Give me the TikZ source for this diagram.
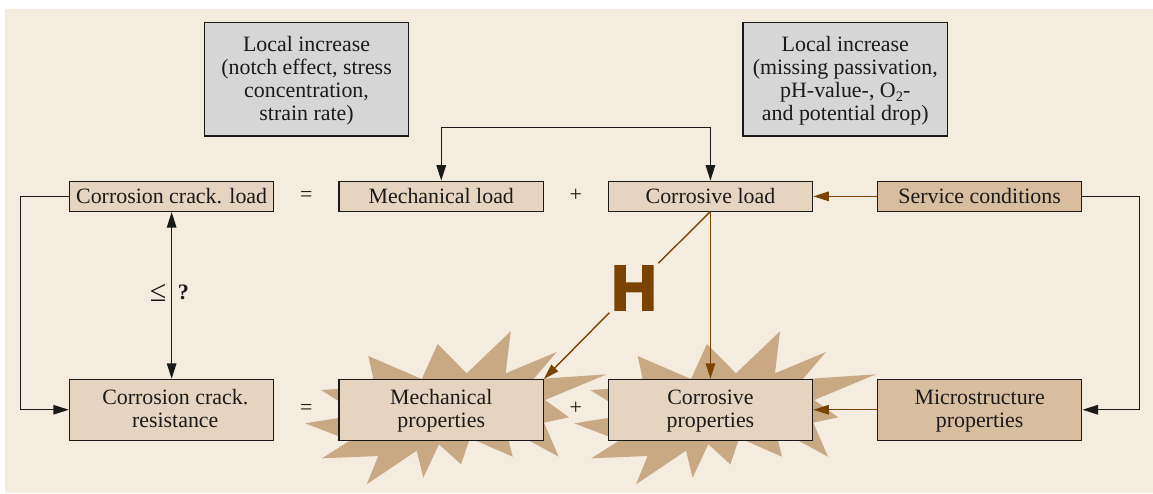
\documentclass[tikz,border=0pt]{standalone}
\usepackage{fontspec}
\setmainfont{Liberation Serif}
\newfontfamily\heavyfont[FakeBold=3.8]{Liberation Sans Bold}
\usetikzlibrary{arrows.meta}
\definecolor{paper}{HTML}{F3ECDF}
\definecolor{boxlight}{HTML}{E5D5C0}
\definecolor{boxdark}{HTML}{D8BE9F}
\definecolor{burst}{HTML}{C8A983}
\definecolor{greybox}{HTML}{D6D6D6}
\definecolor{rust}{HTML}{7A4300}
\definecolor{ink}{HTML}{1A1A1A}
% Every text line in a box gets the same height and depth.
\newcommand{\linestrut}{\rule[-4.8pt]{0pt}{23pt}}
\tikzset{
  x=1pt,y=-1pt,
  boxbase/.style={draw=ink,line width=1.1pt,minimum width=204.5pt,text=ink,align=center,
    font=\fontsize{21.9pt}{23pt}\selectfont,inner sep=0pt,outer sep=0pt,anchor=north west},
  single/.style={boxbase,fill=boxlight,minimum height=30.3pt},
  double/.style={boxbase,fill=boxlight,minimum height=60.7pt},
  singledark/.style={single,fill=boxdark},
  doubledark/.style={double,fill=boxdark},
  note/.style={boxbase,fill=greybox,minimum height=113.3pt},
  blackline/.style={draw=ink,line width=1.4pt,line join=miter,shorten >=0.6pt,-{Triangle[length=15.5pt,width=9.5pt]}},
  blacktwo/.style={draw=ink,line width=1.4pt,shorten >=0.6pt,shorten <=0.6pt,
    {Triangle[length=15.5pt,width=9.5pt]}-{Triangle[length=15.5pt,width=9.5pt]}},
  rustline/.style={draw=rust,line width=1.4pt,shorten >=0.6pt,-{Triangle[length=15.5pt,width=9.5pt]}},
  rustplain/.style={draw=rust,line width=1.4pt},
  sign/.style={text=ink,font=\fontsize{21.9pt}{23pt}\selectfont,inner sep=0pt},
  burstshape/.style={fill=burst,draw=none},
}
% Jagged burst drawn behind a property box; the argument is its horizontal offset.
\newcommand{\burstat}[1]{%
  \fill[burstshape,shift={(#1,0)}]
    (368.3,356) -- (421.7,379) -- (437.7,344) -- (466.7,373.3) -- (510.7,331.3)
    -- (505.7,373.3) -- (556.7,352) -- (533.3,379.3) -- (606.7,374.3) -- (545,400)
    -- (569,417.3) -- (544,422.7) -- (558.7,456.7) -- (505.7,428) -- (512.7,456.7)
    -- (470,438) -- (461,464.3) -- (439,444.3) -- (423.3,477.7) -- (416.7,450.7)
    -- (366.7,484.3) -- (378.3,456) -- (322,458.3) -- (350,440.5)
    -- (305,423.3) -- (345,417) -- (345,405) -- (321,390) -- (345,388.5)
    -- (373.3,378.3) -- cycle;}
\begin{document}
\begin{tikzpicture}
\useasboundingbox (0,0) rectangle (1153,493);
\fill[paper] (5,9) rectangle (1153,493);

\burstat{0}
\burstat{269.3}

\node[note] (localA) at (204.3,22.7) {\linestrut Local increase\\\linestrut(notch effect, stress\\\linestrut concentration,\\\linestrut strain rate)};
\node[note] (localB) at (743,22.7) {\linestrut Local increase\\\linestrut(missing passivation,\\\linestrut pH-value-, O\raisebox{-3.5pt}{\fontsize{14.5pt}{15pt}\selectfont 2}-\\\linestrut and potential drop)};

\node[single] (ccload) at (69.4,181.2) {\linestrut Corrosion crack. load};
\node[single] (mechload) at (339,181.2) {\linestrut Mechanical load};
\node[single] (corrload) at (608.2,181.2) {\linestrut Corrosive load};
\node[singledark] (service) at (877.4,181.2) {\linestrut Service conditions};

\node[double] (ccres) at (69.4,379.4) {\linestrut\hspace*{7.2pt}Corrosion crack.\\\linestrut\hspace*{7.2pt}resistance};
\node[double] (mechprop) at (339,379.4) {\linestrut Mechanical\\\linestrut properties};
\node[double] (corrprop) at (608.2,379.4) {\linestrut Corrosive\\\linestrut properties};
\node[doubledark] (micro) at (877.4,379.4) {\linestrut Microstructure\\\linestrut properties};

\node[sign] (eqtop) at (306.3,196.7) {=};
\node[sign] (plustop) at (575.7,195.5) {+};
\node[sign] (eqbot) at (306.3,409.4) {=};
\node[sign] (plusbot) at (575.7,408) {+};
\node[sign,font=\fontsize{30pt}{32pt}\selectfont] (leq) at (158,293.3) {≤};
\node[sign,font=\fontsize{22pt}{24pt}\selectfont\bfseries] (query) at (183.3,292) {?};

\node[text=rust,font=\fontsize{63pt}{63pt}\heavyfont,inner sep=0pt] (hydrogen) at (634,288) {H};

\coordinate (loopXl) at (20.7,0);
\coordinate (loopXr) at (1139.3,0);
\coordinate (riseY) at (0,127.7);
\coordinate (hUp) at (658.3,263.3);
\coordinate (hDown) at (609.3,312.7);

\draw[blackline] (ccload.west) -- (ccload.west -| loopXl) -- (ccres.west -| loopXl) -- (ccres.west);
\draw[blackline] (service.east) -- (service.east -| loopXr) -- (micro.east -| loopXr) -- (micro.east);
\draw[blacktwo] (ccload.south) -- (ccres.north);
\draw[blacktwo] (mechload.north) -- (mechload.north |- riseY) -- (corrload.north |- riseY) -- (corrload.north);
\draw[rustline] (service.west) -- (corrload.east);
\draw[rustline] (micro.west) -- (corrprop.east);
\draw[rustline] (corrload.south) -- (corrprop.north);
\draw[rustplain] (corrload.south) -- (hUp);
\draw[rustline] (hDown) -- (mechprop.north east);
\end{tikzpicture}
\end{document}
